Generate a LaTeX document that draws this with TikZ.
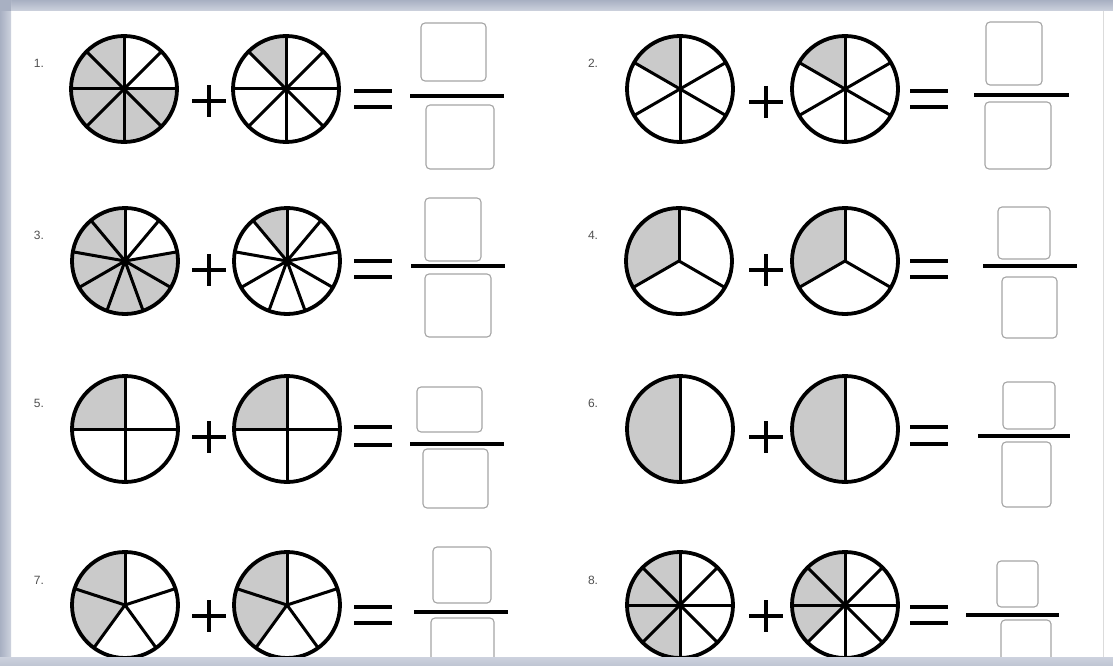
\documentclass[tikz,border=0pt]{standalone}
\usepackage{fontspec}
\setmainfont{Liberation Sans}
\definecolor{shadegray}{RGB}{202,202,202}
\definecolor{boxgray}{RGB}{165,165,165}
\definecolor{numgray}{RGB}{80,80,80}
\definecolor{frameA}{RGB}{168,176,194}
\definecolor{frameB}{RGB}{205,210,222}
\definecolor{frameC}{RGB}{190,196,210}
\newcommand{\fracpie}[5]{%
  \foreach \k in {#5}{%
    \pgfmathsetmacro\angA{#4+\k*360/#3}%
    \pgfmathsetmacro\angB{#4+(\k+1)*360/#3}%
    \fill[shadefill] (#1,-#2) -- ++(\angA:53pt) arc[start angle=\angA, end angle=\angB, radius=53pt] -- cycle;
  }%
  \foreach \k in {1,...,#3}{%
    \pgfmathsetmacro\angA{#4+\k*360/#3}%
    \draw[spoke] (#1,-#2) -- ++(\angA:53pt);
  }%
  \draw[rim] (#1,-#2) circle[radius=53pt];
}
\newcommand{\plussign}[2]{%
  \draw[opline] (#1-17,-#2) -- (#1+17,-#2);
  \draw[opline] (#1,-#2+16) -- (#1,-#2-16);
}
\newcommand{\equalsign}[3]{% x, upper y, lower y
  \draw[opline] (#1-19,-#2) -- (#1+19,-#2);
  \draw[opline] (#1-19,-#3) -- (#1+19,-#3);
}
\begin{document}
\begin{tikzpicture}[x=1pt,y=1pt,
  rim/.style={line width=3.8pt, black},
  spoke/.style={line width=3pt, black, line cap=round},
  shadefill/.style={fill=shadegray},
  ansbox/.style={draw=boxgray, line width=1.1pt, rounded corners=4pt, fill=white},
  barline/.style={line width=4.6pt, black},
  opline/.style={line width=4.4pt, black},
  numlabel/.style={font=\fontsize{12}{12}\selectfont, text=numgray, inner sep=0pt}
]
\useasboundingbox (0,0) rectangle (1113,-666);
\fill[white] (0,0) rectangle (1113,-666);
\clip (0,0) rectangle (1113,-666);

% ---------- Problem 1 ----------
\node[numlabel] (n1) at (39,-63) {1.};
\fracpie{124}{89}{8}{0}{2,3,4,5,6,7}
\plussign{209}{101}
\fracpie{286}{89}{8}{0}{2}
\equalsign{373}{91}{107}
\draw[ansbox] (421,-23) rectangle (486,-81);
\draw[ansbox] (426,-105) rectangle (494,-169);
\draw[barline] (410,-96) -- (504,-96);

% ---------- Problem 2 ----------
\node[numlabel] (n2) at (593,-63) {2.};
\fracpie{680}{89}{6}{30}{1}
\plussign{766}{102}
\fracpie{845}{89}{6}{30}{1}
\equalsign{929}{91}{107}
\draw[ansbox] (986,-22) rectangle (1042,-85);
\draw[ansbox] (985,-102) rectangle (1051,-169);
\draw[barline] (974,-95) -- (1069,-95);

% ---------- Problem 3 ----------
\node[numlabel] (n3) at (39,-235) {3.};
\fracpie{125}{261}{9}{10}{2,3,4,5,6,7,8}
\plussign{209}{270}
\fracpie{287}{261}{9}{10}{2}
\equalsign{373}{261}{277}
\draw[ansbox] (425,-198) rectangle (481,-261);
\draw[ansbox] (425,-274) rectangle (491,-337);
\draw[barline] (411,-266) -- (505,-266);

% ---------- Problem 4 ----------
\node[numlabel] (n4) at (593,-235) {4.};
\fracpie{679}{261}{3}{90}{0}
\plussign{766}{270}
\fracpie{845}{261}{3}{90}{0}
\equalsign{929}{261}{277}
\draw[ansbox] (998,-207) rectangle (1050,-259);
\draw[ansbox] (1002,-277) rectangle (1057,-338);
\draw[barline] (983,-266) -- (1077,-266);

% ---------- Problem 5 ----------
\node[numlabel] (n5) at (39,-403) {5.};
\fracpie{125}{429}{4}{0}{1}
\plussign{209}{437}
\fracpie{287}{429}{4}{0}{1}
\equalsign{373}{427}{445}
\draw[ansbox] (417,-387) rectangle (482,-432);
\draw[ansbox] (423,-449) rectangle (488,-508);
\draw[barline] (410,-444) -- (504,-444);

% ---------- Problem 6 ----------
\node[numlabel] (n6) at (593,-403) {6.};
\fracpie{680}{429}{2}{90}{0}
\plussign{766}{437}
\fracpie{845}{429}{2}{90}{0}
\equalsign{929}{427}{444}
\draw[ansbox] (1003,-382) rectangle (1055,-429);
\draw[ansbox] (1002,-442) rectangle (1051,-507);
\draw[barline] (978,-436) -- (1070,-436);

% ---------- Problem 7 ----------
\node[numlabel] (n7) at (39,-580) {7.};
\fracpie{125}{605}{5}{18}{1,2}
\plussign{209}{616}
\fracpie{287}{605}{5}{18}{1,2}
\equalsign{373}{607}{623}
\draw[ansbox] (433,-547) rectangle (491,-603);
\draw[ansbox] (431,-618) rectangle (494,-675);
\draw[barline] (414,-612) -- (508,-612);

% ---------- Problem 8 ----------
\node[numlabel] (n8) at (593,-580) {8.};
\fracpie{680}{605}{8}{0}{2,3,4,5}
\plussign{766}{616}
\fracpie{845}{605}{8}{0}{2,3,4}
\equalsign{929}{607}{623}
\draw[ansbox] (997,-561) rectangle (1038,-607);
\draw[ansbox] (1001,-620) rectangle (1051,-678);
\draw[barline] (966,-615) -- (1059,-615);

% ---------- window frame ----------
\draw[boxgray!40, line width=1pt] (1103,-10) -- (1103,-657);
\shade[top color=frameA, bottom color=frameB] (0,0) rectangle (1113,-11);
\shade[left color=frameA, right color=frameB] (0,0) rectangle (11,-666);
\shade[top color=frameB, bottom color=frameC] (0,-657) rectangle (1113,-666);
\fill[frameA] (0,0) rectangle (11,-11);
\end{tikzpicture}
\end{document}
